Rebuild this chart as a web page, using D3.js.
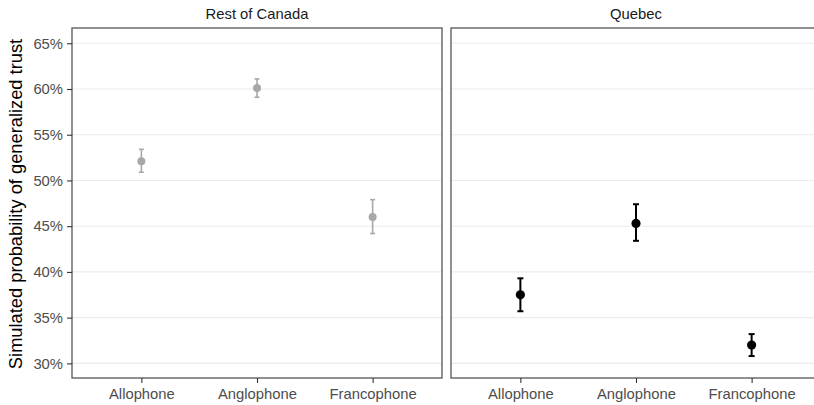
<!DOCTYPE html>
<html>
<head>
<meta charset="utf-8">
<script src="https://cdn.jsdelivr.net/npm/d3@7/dist/d3.min.js"></script>
<style>
  body { margin: 0; background: #fff; }
  svg { display: block; font-family: "Liberation Sans", Arial, sans-serif; }
</style>
</head>
<body>
<svg id="chart" width="814" height="405"></svg>
<script>
const categories = ["Allophone", "Anglophone", "Francophone"];
const panels = ["Rest of Canada", "Quebec"];
const yTicks = [30, 35, 40, 45, 50, 55, 60, 65];
// estimates (%) per panel
const restEstimate = [52.1, 60.1, 46.0];
const restLower    = [50.9, 59.1, 44.2];
const restUpper    = [53.4, 61.1, 47.9];
const quebecEstimate = [37.5, 45.3, 32.0];
const quebecLower    = [35.7, 43.4, 30.8];
const quebecUpper    = [39.3, 47.4, 33.2];

(function () {
const panelData = [
  { name: panels[0], est: restEstimate, lo: restLower, hi: restUpper, color: "#a8a8a8", sw: 1.6, r: 4, cap: 5 },
  { name: panels[1], est: quebecEstimate, lo: quebecLower, hi: quebecUpper, color: "#000000", sw: 2, r: 4.6, cap: 6 }
];

const svg = d3.select("#chart");
const pTop = 28, pBottom = 378, panelW = 370, gap = 9, left0 = 72;

const y = d3.scaleLinear().domain([28.4, 66.67]).range([pBottom, pTop]);

panelData.forEach((p, i) => {
  const x0 = left0 + i * (panelW + gap);
  const x = d3.scalePoint().domain(categories).range([x0, x0 + panelW]).padding(0.6);
  const g = svg.append("g");

  g.selectAll("line.grid").data(yTicks).join("line")
    .attr("x1", x0).attr("x2", x0 + panelW)
    .attr("y1", d => y(d)).attr("y2", d => y(d))
    .attr("stroke", "#ebebeb").attr("stroke-width", 1.1);

  g.append("text").attr("x", x0 + panelW / 2).attr("y", 18.5)
    .attr("text-anchor", "middle").attr("font-size", 14.8).attr("fill", "#1a1a1a")
    .text(p.name);

  categories.forEach((c, j) => {
    const cx = x(c);
    g.append("line").attr("x1", cx).attr("x2", cx)
      .attr("y1", y(p.lo[j])).attr("y2", y(p.hi[j]))
      .attr("stroke", p.color).attr("stroke-width", p.sw);
    [p.lo[j], p.hi[j]].forEach(v => {
      g.append("line").attr("x1", cx - p.cap / 2).attr("x2", cx + p.cap / 2)
        .attr("y1", y(v)).attr("y2", y(v))
        .attr("stroke", p.color).attr("stroke-width", p.sw);
    });
    g.append("circle").attr("cx", cx).attr("cy", y(p.est[j])).attr("r", p.r)
      .attr("fill", p.color);
  });

  g.append("rect").attr("x", x0).attr("y", pTop).attr("width", panelW).attr("height", pBottom - pTop)
    .attr("fill", "none").attr("stroke", "#555").attr("stroke-width", 1.3);

  const xa = g.append("g").attr("transform", `translate(0,${pBottom})`)
    .call(d3.axisBottom(x).tickSize(5).tickPadding(5));
  xa.select(".domain").remove();
  xa.selectAll(".tick line").attr("stroke", "#333").attr("stroke-width", 1.1);
  xa.selectAll(".tick text").attr("font-size", 14.8).attr("fill", "#4d4d4d")
    .attr("font-family", "Liberation Sans, Arial, sans-serif");

  if (i === 0) {
    const ya = g.append("g").attr("transform", `translate(${x0},0)`)
      .call(d3.axisLeft(y).tickValues(yTicks).tickFormat(d => d + "%").tickSize(5).tickPadding(4));
    ya.select(".domain").remove();
    ya.selectAll(".tick line").attr("stroke", "#333").attr("stroke-width", 1.1);
    ya.selectAll(".tick text").attr("font-size", 14.8).attr("fill", "#4d4d4d")
      .attr("font-family", "Liberation Sans, Arial, sans-serif");
  }
});

svg.append("text")
  .attr("transform", `translate(22,${(pTop + pBottom) / 2 + 1}) rotate(-90)`)
  .attr("text-anchor", "middle").attr("font-size", 18.3).attr("fill", "#000")
  .text("Simulated probability of generalized trust");
})();
</script>
</body>
</html>
